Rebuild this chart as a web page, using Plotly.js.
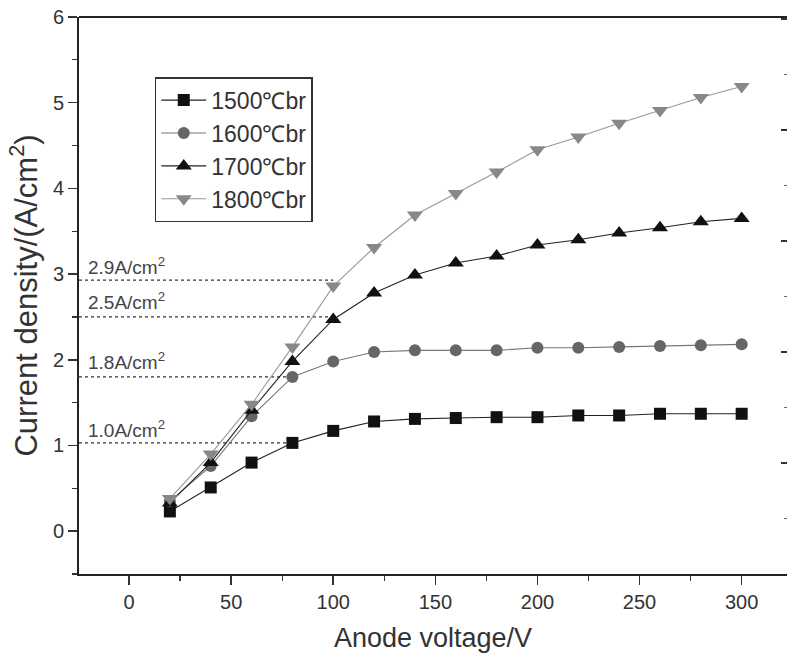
<!DOCTYPE html>
<html>
<head>
<meta charset="utf-8">
<script src="https://cdn.plot.ly/plotly-3.0.1.min.js"></script>
<style>html,body{margin:0;padding:0;background:#fff;}#chart{width:787px;height:666px;}</style>
</head>
<body>
<div id="chart"></div>
<script>
// ---- data ----
const voltage = [20, 40, 60, 80, 100, 120, 140, 160, 180, 200, 220, 240, 260, 280, 300];
const j1500 = [0.23, 0.51, 0.80, 1.03, 1.17, 1.28, 1.31, 1.32, 1.33, 1.33, 1.35, 1.35, 1.37, 1.37, 1.37];
const j1600 = [0.35, 0.76, 1.34, 1.80, 1.98, 2.09, 2.11, 2.11, 2.11, 2.14, 2.14, 2.15, 2.16, 2.17, 2.18];
const j1700 = [0.33, 0.80, 1.41, 1.98, 2.47, 2.78, 2.99, 3.13, 3.21, 3.34, 3.40, 3.48, 3.54, 3.61, 3.65];
const j1800 = [0.38, 0.90, 1.48, 2.15, 2.86, 3.31, 3.69, 3.94, 4.19, 4.45, 4.60, 4.76, 4.91, 5.06, 5.19];
const seriesNames = ['1500℃br', '1600℃br', '1700℃br', '1800℃br'];

// reference (dotted) levels
const refLevels = [2.93, 2.50, 1.80, 1.03];
const refEndV = [100, 100, 80, 80];
const refLabels = ['2.9A/cm<sup>2</sup>', '2.5A/cm<sup>2</sup>', '1.8A/cm<sup>2</sup>', '1.0A/cm<sup>2</sup>'];
const refLabelY = [3.09, 2.69, 1.98, 1.19];

const xTitle = 'Anode voltage/V';
const yTitle = 'Current density/(A/cm<sup>2</sup>)';

const FONT = 'Liberation Sans, Arial, Helvetica, sans-serif';
const xMin = -24.5;

const styles = [
  {symbol: 'square', mcolor: '#111', lcolor: '#222', size: 12},
  {symbol: 'circle', mcolor: '#666', lcolor: '#777', size: 12},
  {symbol: 'triangle-up', mcolor: '#111', lcolor: '#222', size: 14},
  {symbol: 'triangle-down', mcolor: '#888', lcolor: '#999', size: 14}
];
const values = [j1500, j1600, j1700, j1800];

const traces = [];
// dotted reference lines
refLevels.forEach((lv, i) => {
  traces.push({
    x: [xMin, refEndV[i]], y: [lv, lv], mode: 'lines', showlegend: false, hoverinfo: 'skip',
    line: {color: '#333', width: 1.3, dash: 'dot'}
  });
});
values.forEach((v, i) => {
  traces.push({
    x: voltage, y: v, name: seriesNames[i], mode: 'lines+markers',
    line: {color: styles[i].lcolor, width: 1.1},
    marker: {symbol: styles[i].symbol, color: styles[i].mcolor, size: styles[i].size, line: {width: 0}}
  });
});
// empty trace so the right-hand tick axis is drawn
traces.push({x: [], y: [], yaxis: 'y2', mode: 'markers', showlegend: false, hoverinfo: 'skip'});

const annotations = refLabels.map((t, i) => ({
  xref: 'paper', x: 0.010, xanchor: 'left', yref: 'y', y: refLabelY[i], yanchor: 'middle',
  text: t, showarrow: false, font: {family: FONT, size: 19, color: '#444'}
}));

const layout = {
  width: 787, height: 666, autosize: false,
  margin: {l: 79, r: 0, t: 17, b: 92},
  paper_bgcolor: '#fff', plot_bgcolor: '#fff',
  font: {family: FONT, color: '#333'},
  showlegend: true,
  legend: {
    x: 0.107, y: 0.892, xanchor: 'left', yanchor: 'top',
    bgcolor: '#fff', bordercolor: '#333', borderwidth: 1.5,
    font: {family: FONT, size: 23, color: '#333'},
    itemwidth: 45, tracegroupgap: 0
  },
  xaxis: {
    range: [xMin, 322.2], tickvals: [0, 50, 100, 150, 200, 250, 300],
    ticks: 'outside', ticklen: 9, tickwidth: 1.5, tickcolor: '#333',
    minor: {dtick: 25, tick0: 0, ticks: 'outside', ticklen: 5, tickwidth: 1.2, tickcolor: '#333'},
    showline: true, linecolor: '#222', linewidth: 2, zeroline: false, showgrid: false,
    tickfont: {family: FONT, size: 20, color: '#333'},
    title: {text: xTitle, font: {family: FONT, size: 27, color: '#333'}, standoff: 16}
  },
  yaxis: {
    range: [-0.5, 6], tickvals: [0, 1, 2, 3, 4, 5, 6],
    ticks: 'outside', ticklen: 9, tickwidth: 1.5, tickcolor: '#333',
    minor: {dtick: 0.5, tick0: 0, ticks: 'outside', ticklen: 5, tickwidth: 1.2, tickcolor: '#333'},
    showline: true, linecolor: '#222', linewidth: 2, zeroline: false, showgrid: false,
    tickfont: {family: FONT, size: 20, color: '#333'},
    title: {text: yTitle, font: {family: FONT, size: 31, color: '#333'}, standoff: 6}
  },
  yaxis2: {
    overlaying: 'y', side: 'right', anchor: 'x', range: [0, 5.02], dtick: 1, tick0: 0,
    ticks: 'inside', ticklen: 6, tickwidth: 1.5, tickcolor: '#333',
    minor: {dtick: 0.5, ticks: 'inside', ticklen: 3, tickwidth: 1, tickcolor: '#666'},
    showticklabels: false, showline: false, showgrid: false, zeroline: false
  },
  shapes: [{type: 'line', xref: 'paper', yref: 'paper', x0: 0, x1: 1, y0: 1, y1: 1, line: {color: '#222', width: 2}}],
  annotations: annotations
};

Plotly.newPlot('chart', traces, layout, {displayModeBar: false, staticPlot: true});
</script>
</body>
</html>
